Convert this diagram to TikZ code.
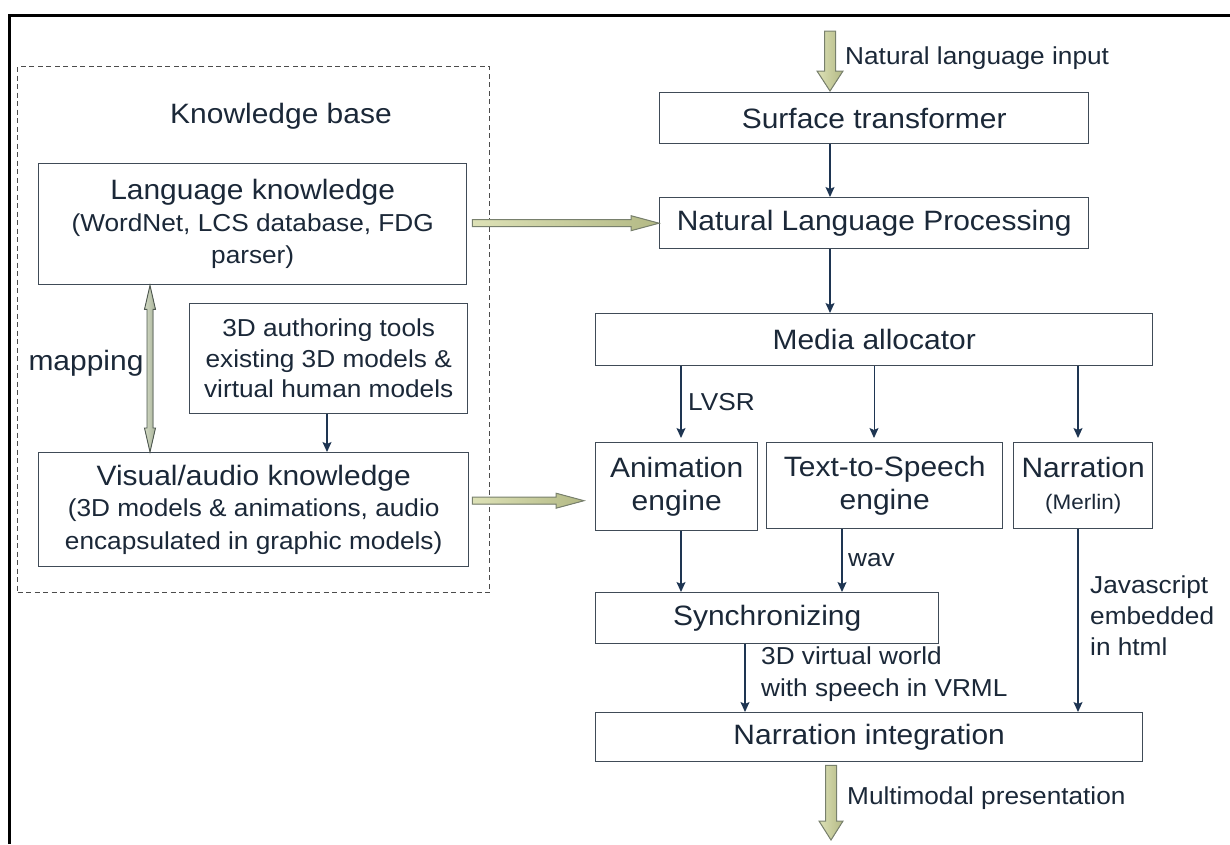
\documentclass[tikz,border=0pt]{standalone}
\usepackage{fontspec}
\setmainfont{Liberation Sans}[FakeStretch=1.07]
\usetikzlibrary{arrows.meta,calc}

\definecolor{ink}{HTML}{1B2838}
\definecolor{edge}{HTML}{404B57}
\definecolor{wire}{HTML}{1E3552}
\definecolor{khakiA}{HTML}{DDE1B6}
\definecolor{khakiB}{HTML}{B3B985}
\definecolor{khakiLine}{HTML}{78806D}
\definecolor{mapA}{HTML}{D3DAC4}
\definecolor{mapB}{HTML}{A9B39A}
\definecolor{mapLine}{HTML}{4E5850}

\newcommand{\bigtxt}{\fontsize{28}{32.5}\selectfont}
\newcommand{\smalltxt}{\fontsize{24.5}{32.5}\selectfont}
\newcommand{\tinytxt}{\fontsize{21}{32.5}\selectfont}

% horizontal block arrow: start, tip, half shaft, half head, head length
\newcommand{\fatright}[5]{%
  \filldraw[fatfill] ($(#1)+(0,-#3)$) -- ($(#2)+(-#5,-#3)$) -- ($(#2)+(-#5,-#4)$)
    -- (#2) -- ($(#2)+(-#5,#4)$) -- ($(#2)+(-#5,#3)$) -- ($(#1)+(0,#3)$) -- cycle;}
% downward block arrow: start, tip, half shaft, half head, head length
\newcommand{\fatdown}[5]{%
  \filldraw[fatfill] ($(#1)+(-#3,0)$) -- ($(#2)+(-#3,-#5)$) -- ($(#2)+(-#4,-#5)$)
    -- (#2) -- ($(#2)+(#4,-#5)$) -- ($(#2)+(#3,-#5)$) -- ($(#1)+(#3,0)$) -- cycle;}

\tikzset{
  box/.style={draw=edge, line width=1.4pt, inner sep=0pt, anchor=north west,
    text=ink, align=center, font=\bigtxt},
  lbl/.style={text=ink, font=\smalltxt, inner sep=0pt, anchor=west, align=left},
  wirearrow/.style={draw=wire, line width=1.3pt,
    -{Stealth[length=10pt,width=9pt,inset=2pt]}},
  fatfill/.style={left color=khakiA, right color=khakiB, draw=khakiLine,
    line width=1pt, line join=miter},
  mapfill/.style={left color=mapA, right color=mapB, draw=mapLine,
    line width=0.9pt},
  kbframe/.style={draw=black!70, line width=1.1pt, dash pattern=on 5pt off 3.5pt,
    inner sep=0pt, anchor=north west},
}

\begin{document}
\begin{tikzpicture}[x=1pt,y=-1pt]
\useasboundingbox (0,0) rectangle (1230,844);
\fill[white] (0,0) rectangle (1230,844);

% page frame (top and left edges)
\draw[line width=3pt] (9,844) -- (9,15) -- (1230,15);

% knowledge base group
\node[kbframe, minimum width=472pt, minimum height=526pt] (kbase) at (17,66) {};
\node[text=ink, font=\bigtxt, inner sep=0pt] (kbtitle) at (281,116) {Knowledge base};

\node[box, minimum width=428pt, minimum height=121pt] (lang) at (38,163)
  {Language knowledge\\[-1pt]{\smalltxt (WordNet, LCS database, FDG}\\{\smalltxt parser)}};
\node[box, minimum width=278pt, minimum height=110pt, font=\fontsize{24.5}{30.5}\selectfont]
  (auth) at (189,303) {3D authoring tools\\existing 3D models \&\\virtual human models};
\node[box, minimum width=430pt, minimum height=114pt] (vis) at (38,452)
  {Visual/audio knowledge\\[-1pt]{\smalltxt (3D models \& animations, audio}\\{\smalltxt encapsulated in graphic models)}};
\node[text=ink, font=\bigtxt, inner sep=0pt] (maplbl) at (86,363) {mapping};

% processing pipeline
\node[box, minimum width=429pt, minimum height=51pt] (surf) at (659,92) {Surface transformer};
\node[box, minimum width=429pt, minimum height=51pt] (nlp) at (659,197) {Natural Language Processing};
\node[box, minimum width=557pt, minimum height=52pt] (media) at (595,313) {Media allocator};
\node[box, minimum width=162pt, minimum height=88pt] (anim) at (595,442) {Animation\\engine};
\node[box, minimum width=236pt, minimum height=86pt] (tts) at (766,442) {Text-to-Speech\\engine};
\node[box, minimum width=139pt, minimum height=86pt] (narr) at (1013,442) {Narration\\{\tinytxt (Merlin)}};
\node[box, minimum width=343pt, minimum height=51pt] (sync) at (595,592) {Synchronizing};
\node[box, minimum width=547pt, minimum height=49pt] (nint) at (595,712) {Narration integration};

% columns used by the vertical connectors
\coordinate (spine) at (830,0);
\coordinate (colA) at (681,0);
\coordinate (colB) at (874,0);
\coordinate (colC) at (1078,0);
\coordinate (colD) at (842,0);
\coordinate (colE) at (745,0);
\coordinate (colM) at (150,0);
\coordinate (colT) at (327,0);

% thin connectors
\draw[wirearrow] (surf.south -| spine) -- (nlp.north -| spine);
\draw[wirearrow] (nlp.south -| spine) -- (media.north -| spine);
\draw[wirearrow] (media.south -| colA) -- ($(anim.north -| colA)+(0,-4)$);
\draw[wirearrow, line width=0.9pt] (media.south -| colB) -- ($(tts.north -| colB)+(0,-4)$);
\draw[wirearrow] (media.south -| colC) -- ($(narr.north -| colC)+(0,-4)$);
\draw[wirearrow] (anim.south -| colA) -- (sync.north -| colA);
\draw[wirearrow] (tts.south -| colD) -- (sync.north -| colD);
\draw[wirearrow] (sync.south -| colE) -- (nint.north -| colE);
\draw[wirearrow] (narr.south -| colC) -- (nint.north -| colC);
\draw[wirearrow] (auth.south -| colT) -- (vis.north -| colT);

% connector labels
\node[lbl] (lvsr) at (688,402) {LVSR};
\node[lbl] (wav) at (848,560) {wav};
\node[lbl, font=\fontsize{24.5}{32}\selectfont] (vrml) at (761,674) {3D virtual world\\with speech in VRML};
\node[lbl, font=\fontsize{24.5}{31}\selectfont] (js) at (1090,616) {Javascript\\embedded\\in html};
\node[lbl] (inlbl) at (845,58) {Natural language input};
\node[lbl] (outlbl) at (847,798) {Multimodal presentation};

% block arrows
\coordinate (f1s) at ($(lang.east)+(5,-1)$);
\coordinate (f1e) at (f1s -| nlp.west);
\fatright{f1s}{f1e}{3.5}{7.5}{28}

\coordinate (f2s) at ($(vis.east)+(3,-9)$);
\coordinate (f2e) at ($(f2s -| anim.west)+(-11,0)$);
\fatright{f2s}{f2e}{3.5}{7.5}{28}

\coordinate (inTop) at (830,31);
\coordinate (inTip) at ($(surf.north -| spine)+(0,-1)$);
\fatdown{inTop}{inTip}{5.5}{13}{20}

\coordinate (outTop) at ($(nint.south -| spine)+(1,3)$);
\coordinate (outTip) at (831,840);
\fatdown{outTop}{outTip}{5.5}{12}{19}

% mapping: two-headed arrow between language and visual knowledge
\coordinate (mapT) at (lang.south -| colM);
\coordinate (mapB) at (vis.north -| colM);
\filldraw[mapfill] (mapT) -- ($(mapT)+(5.5,24)$) -- ($(mapT)+(3,24)$)
  -- ($(mapB)+(3,-24)$) -- ($(mapB)+(5.5,-24)$) -- (mapB)
  -- ($(mapB)+(-5.5,-24)$) -- ($(mapB)+(-3,-24)$)
  -- ($(mapT)+(-3,24)$) -- ($(mapT)+(-5.5,24)$) -- cycle;
\end{tikzpicture}
\end{document}
